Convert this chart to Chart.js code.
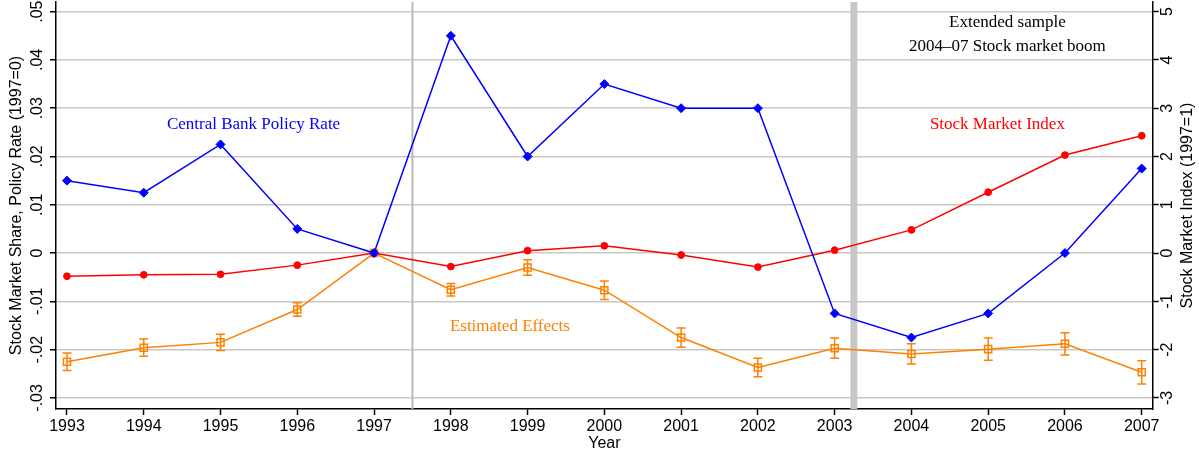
<!DOCTYPE html>
<html><head><meta charset="utf-8">
<script src="https://cdn.jsdelivr.net/npm/chart.js@4.4.1/dist/chart.umd.min.js"></script>
<style>html,body{margin:0;padding:0;background:#fff}#wrap{width:1199px;height:455px;position:relative}</style>
</head><body><div id="wrap"><canvas id="c"></canvas></div>
<script>
const years = [1993,1994,1995,1996,1997,1998,1999,2000,2001,2002,2003,2004,2005,2006,2007];
const policyRate = [0.015,0.0125,0.0225,0.005,0,0.045,0.02,0.035,0.03,0.03,-0.0125,-0.0175,-0.0125,0,0.0175];
const stockIndex = [-0.48,-0.45,-0.44,-0.25,0,-0.28,0.05,0.15,-0.04,-0.29,0.06,0.48,1.26,2.03,2.43];
const estEffects = [-0.0225,-0.0196,-0.0185,-0.0117,0,-0.0076,-0.0030,-0.0077,-0.0175,-0.0237,-0.0197,-0.0209,-0.0199,-0.0188,-0.0247];
const estErr = [0.0018,0.0018,0.0017,0.0014,0,0.0013,0.0016,0.0019,0.0020,0.0019,0.0021,0.0021,0.0023,0.0023,0.0024];
const leftTicks = [-0.03,-0.02,-0.01,0,0.01,0.02,0.03,0.04,0.05];
const rightTicks = [-3,-2,-1,0,1,2,3,4,5];
const rightTitle = 'Stock Market Index (1997=1)';
const vLines = [{x:1997.5, w:2, color:'#b9b9b9'},{x:2003.25, w:7, color:'#c8c8c8'}];
const labels = [
  {text:'Central Bank Policy Rate', x:1995.43, y:0.0267, color:'#0000ff'},
  {text:'Stock Market Index', x:2005.12, y:0.0267, color:'#ff0000'},
  {text:'Estimated Effects', x:1998.77, y:-0.0153, color:'#ff8000'},
  {text:'Extended sample', x:2005.25, y:0.0477, color:'#000000'},
  {text:'2004\u201307 Stock market boom', x:2005.25, y:0.0428, color:'#000000'}
];

const sans = 'Liberation Sans, Arial, Helvetica, sans-serif';
const serif = 'Liberation Serif, Times New Roman, serif';
function fmtLeft(v){ if (Math.abs(v)<1e-9) return '0'; return (v<0?'-':'') + Math.abs(v).toFixed(2).slice(1); }
const pts = arr => years.map((y,i)=>({x:y, y:arr[i]}));
function noPad(s){ s.paddingTop=0; s.paddingBottom=0; s.paddingLeft=0; s.paddingRight=0; }

const bgPlugin = {
  id:'bg',
  beforeDatasetsDraw(chart){
    const {ctx, chartArea:a, scales:{x}} = chart;
    ctx.save();
    vLines.forEach(l=>{
      const px = x.getPixelForValue(l.x);
      ctx.strokeStyle = l.color; ctx.lineWidth = l.w;
      ctx.beginPath(); ctx.moveTo(px, a.top); ctx.lineTo(px, a.bottom); ctx.stroke();
    });
    ctx.strokeStyle = '#ff8000'; ctx.lineWidth = 1.5;
    years.forEach((yr,i)=>{
      if (!estErr[i]) return;
      const px = x.getPixelForValue(yr);
      const y = chart.scales.y;
      const t = y.getPixelForValue(estEffects[i]+estErr[i]);
      const b = y.getPixelForValue(estEffects[i]-estErr[i]);
      ctx.beginPath();
      ctx.moveTo(px,t); ctx.lineTo(px,b);
      ctx.moveTo(px-4.5,t); ctx.lineTo(px+4.5,t);
      ctx.moveTo(px-4.5,b); ctx.lineTo(px+4.5,b);
      ctx.stroke();
    });
    ctx.restore();
  },
  afterDraw(chart){
    const {ctx, chartArea:a, scales:{x,y,y2}} = chart;
    ctx.save();
    ctx.font = '17px ' + serif;
    ctx.textAlign = 'center'; ctx.textBaseline = 'middle';
    labels.forEach(l=>{
      ctx.fillStyle = l.color;
      ctx.fillText(l.text, x.getPixelForValue(l.x), y.getPixelForValue(l.y));
    });
    ctx.font = '16px ' + sans;
    ctx.fillStyle = '#000';
    ctx.translate(y2.right - 11, (a.top + a.bottom)/2);
    ctx.rotate(-Math.PI/2);
    ctx.fillText(rightTitle, 0, 0);
    ctx.restore();
  }
};

new Chart(document.getElementById('c'), {
  type:'line',
  data:{ datasets:[
    {label:'Central Bank Policy Rate', data:pts(policyRate), yAxisID:'y', borderColor:'#0000ff', backgroundColor:'#0000ff', borderWidth:1.5, pointStyle:'rectRot', pointRadius:4.5, pointBorderWidth:1, order:1},
    {label:'Stock Market Index', data:pts(stockIndex), yAxisID:'y2', borderColor:'#ff0000', backgroundColor:'#ff0000', borderWidth:1.5, pointStyle:'circle', pointRadius:3.4, pointBorderWidth:1, order:2},
    {label:'Estimated Effects', data:pts(estEffects), yAxisID:'y', borderColor:'#ff8000', backgroundColor:'rgba(0,0,0,0)', borderWidth:1.5, pointStyle:'rect', pointRadius:5, pointBorderWidth:1.5, order:3}
  ]},
  options:{
    responsive:true, maintainAspectRatio:false, animation:false,
    layout:{autoPadding:false, padding:{top:2,left:0,right:0,bottom:0}},
    plugins:{legend:{display:false}, tooltip:{enabled:false}},
    elements:{line:{tension:0}},
    scales:{
      x:{type:'linear', position:'bottom', min:1992.857, max:2007.143,
        afterBuildTicks:s=>{s.ticks = years.map(v=>({value:v}));},
        ticks:{autoSkip:false, maxRotation:0, minRotation:0, padding:2, color:'#000', font:{family:sans,size:16}, callback:v=>String(v)},
        grid:{drawOnChartArea:false, drawTicks:true, tickLength:6, tickColor:'#000', tickWidth:1.5},
        border:{display:true, color:'#000', width:1.5},
        title:{display:true, text:'Year', color:'#000', font:{family:sans,size:16}, padding:{top:1.5,bottom:1.5}},
        afterFit:s=>{s.height=46; noPad(s);}
      },
      y:{type:'linear', position:'left', min:-0.0323, max:0.052,
        afterBuildTicks:s=>{s.ticks = leftTicks.map(v=>({value:v}));},
        ticks:{minRotation:90, maxRotation:90, crossAlign:'center', padding:-1, color:'#000', font:{family:sans,size:16}, callback:fmtLeft},
        grid:{color:'#c8c8c8', lineWidth:1.5, drawTicks:true, tickLength:6, tickColor:'#000', tickWidth:1.5},
        border:{display:true, color:'#000', width:1.5},
        title:{display:true, text:'Stock Market Share, Policy Rate (1997=0)', color:'#000', font:{family:sans,size:16}, padding:{top:7,bottom:7}},
        afterFit:s=>{s.width=56; noPad(s);}
      },
      y2:{type:'linear', position:'right', min:-3.23, max:5.2,
        afterBuildTicks:s=>{s.ticks = rightTicks.map(v=>({value:v}));},
        ticks:{minRotation:90, maxRotation:90, crossAlign:'center', padding:2, color:'#000', font:{family:sans,size:16}, callback:v=>String(v)},
        grid:{drawOnChartArea:false, drawTicks:true, tickLength:6, tickColor:'#000', tickWidth:1.5},
        border:{display:true, color:'#000', width:1.5},
        title:{display:false},
        afterFit:s=>{s.width=46.3; noPad(s);}
      }
    }
  },
  plugins:[bgPlugin]
});
</script></body></html>
